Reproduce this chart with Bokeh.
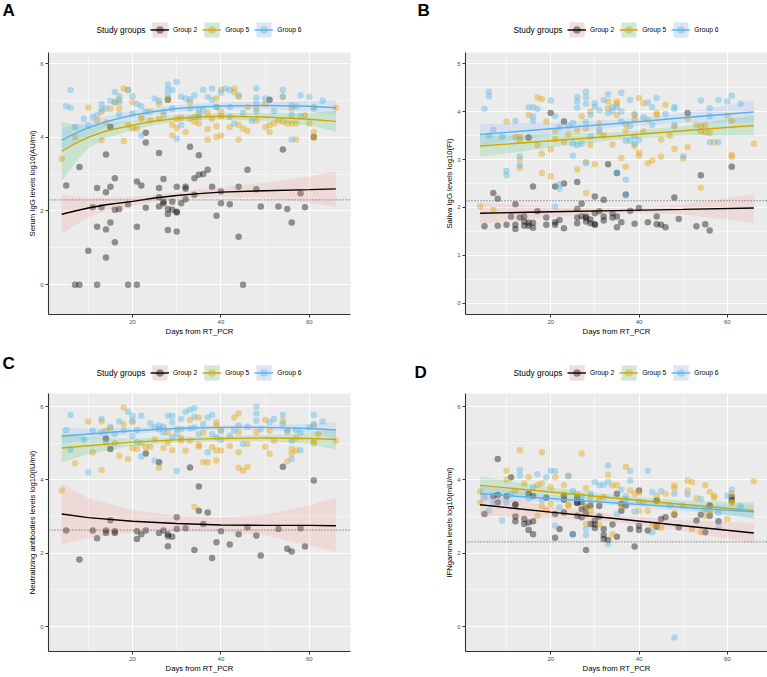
import numpy as np
from bokeh.plotting import figure
from bokeh.models import Range1d, FixedTicker, Span, Legend, LegendItem, Label
from bokeh.layouts import column, row
from bokeh.embed import file_html
from bokeh.resources import INLINE

FONT = "Liberation Sans"
GROUPS = ["Group 2", "Group 5", "Group 6"]
PT_COLORS = ["#000000", "#E69F00", "#56B4E9"]
LINE_COLORS = ["#000000", "#D9A400", "#56B4E9"]
RIB_COLORS = ["#F8766D", "#00BA38", "#619CFF"]
KEY_BG = ["#F0DEDD", "#CEE9D6", "#DCE5F4"]

X_LABEL = "Days from RT_PCR"
Y_LABELS = {
    "A": "Serum IgG levels log10(AU/ml)",
    "B": "Saliva IgG levels log10(FI)",
    "C": "Neutralizing antibodies levels log10(IU/ml)",
    "D": "IFNgamma levels log10(mIU/ml)",
}
CUTOFFS = {"A": 2.3, "B": 2.14, "C": 2.63, "D": 2.31}

# ---------------- Panel A: serum IgG ----------------
a_g2 = [(15,4.28),(23,4.12),(23,3.86),(26,3.57),(33,3.74),(35,3.51),(14,3.53),(54,3.67),(61,4.01),(51,5.02),(28,5.02),
        (5,2.69),(8,3.19),(12,2.62),(13,2.1),(11,2.1),(14,2.51),(15,2.66),(16,2.89),(12,1.57),(14,1.5),(15,1.69),(16,2.03),
        (17,2.05),(16,1.15),(10,0.92),(14,0.74),(7,0),(8,0),(12,0),(19,0),(21,0),(19,2.18),(21,1.57),(21,2.8),(22,2.69),
        (23,2.09),(26,2.62),(26,2.37),(26,2.12),(27,2.87),(27,2.25),(28,2.05),(28,1.92),(28,1.48),(29,2.25),(29,2.03),
        (30,1.96),(30,1.44),(30,2.66),(31,2.21),(32,2.66),(32,2.6),(32,2.32),(34,2.89),(34,2.44),(35,2.98),(36,3.0),
        (37,3.12),(38,2.66),(39,1.87),(40,2.53),(40,2.21),(42,2.18),(44,2.66),(44,1.3),(45,0),(46,3.12),(48,2.59),
        (49,2.12),(53,2.12),(55,2.05),(56,1.69),(58,2.48),(59,2.1),(30,1.98),(27,2.2)]
a_g5 = [(4,3.42),(7,4.01),(10,4.81),(13,4.69),(13,3.92),(15,4.78),(17,4.78),(17,5.02),(18,5.32),(19,5.28),(18,3.9),
        (19,4.33),(20,4.24),(21,4.24),(20,4.96),(22,4.5),(24,4.46),(26,4.5),(27,4.6),(28,5.05),(29,4.33),(29,4.05),
        (31,4.53),(32,4.14),(33,4.96),(33,4.5),(34,4.42),(35,4.64),(35,4.37),(37,4.22),(37,3.94),(38,4.5),(39,5.05),
        (39,4.82),(39,4.01),(39,4.3),(40,5.29),(40,4.57),(40,4.05),(42,4.28),(43,5.32),(43,5.23),(44,5.1),(44,4.33),
        (45,4.24),(46,4.17),(44,3.94),(50,4.91),(50,4.28),(51,4.14),(51,4.33),(52,4.37),(54,5.1),(54,4.42),(55,4.37),
        (56,4.78),(56,4.37),(57,4.37),(57,3.94),(60,4.37),(61,4.82),(61,4.14),(66,4.8),(46,4.82),(48,4.78),(40,4.7),
        (37,4.66),(34,4.55),(30,4.5),(24,4.69),(22,4.55),(16,4.95),(12,4.45),(14,4.4),(26,4.9),(30,4.25),(48,4.45),
        (53,4.45),(59,4.6),(61,3.98)]
a_g6 = [(5,4.84),(6,4.8),(6,5.28),(7,4.28),(9,4.5),(10,4.31),(13,4.9),(13,4.76),(14,4.78),(16,5.23),(17,5.11),(16,4.96),
        (17,4.62),(19,5.28),(20,5.11),(20,4.64),(21,4.9),(22,4.84),(22,4.05),(25,5.05),(26,4.99),(28,5.43),(28,5.29),
        (29,5.28),(28,5.14),(30,5.5),(29,4.78),(30,3.96),(31,5.1),(31,4.33),(32,5.05),(33,5.03),(34,5.14),(36,5.28),
        (35,4.73),(35,4.55),(38,5.32),(37,5.1),(38,5.02),(40,5.21),(41,5.32),(42,5.28),(42,4.82),(43,4.37),(44,5.14),
        (48,5.32),(48,5.07),(48,4.91),(48,4.69),(50,5.05),(52,4.71),(54,5.28),(54,5.1),(56,4.87),(56,4.6),(56,3.94),
        (57,4.84),(58,5.14),(58,4.57),(60,5.1),(61,4.78),(63,4.99),(12,4.6),(11,4.55),(15,4.99),(17,4.96),(23,4.69),
        (27,4.69),(33,4.78),(36,4.73),(39,4.82),(42,4.55),(45,4.66),(47,4.45)]
a_fit_x = [4, 7, 10, 14, 20, 25, 30, 35, 40, 50, 60, 66]
a_fit = {
    "Group 2": dict(y=[1.91, 2.0, 2.08, 2.17, 2.26, 2.35, 2.42, 2.47, 2.51, 2.55, 2.58, 2.6],
                    lo=[1.38, 1.62, 1.82, 2.0, 2.14, 2.26, 2.33, 2.37, 2.38, 2.35, 2.22, 2.1],
                    hi=[2.45, 2.4, 2.36, 2.35, 2.38, 2.44, 2.51, 2.58, 2.65, 2.76, 2.93, 3.08]),
    "Group 5": dict(y=[3.62, 3.83, 4.0, 4.17, 4.33, 4.44, 4.51, 4.55, 4.57, 4.55, 4.49, 4.43],
                    lo=[2.8, 3.3, 3.7, 3.98, 4.2, 4.34, 4.42, 4.47, 4.48, 4.45, 4.32, 4.15],
                    hi=[4.42, 4.35, 4.3, 4.36, 4.47, 4.55, 4.61, 4.64, 4.66, 4.66, 4.66, 4.71]),
    "Group 6": dict(y=[3.92, 4.1, 4.26, 4.42, 4.6, 4.7, 4.78, 4.82, 4.85, 4.86, 4.84, 4.8],
                    lo=[3.6, 3.86, 4.05, 4.27, 4.48, 4.6, 4.69, 4.74, 4.76, 4.76, 4.7, 4.6],
                    hi=[4.25, 4.34, 4.45, 4.56, 4.72, 4.8, 4.87, 4.91, 4.94, 4.96, 4.98, 5.02]),
}

# ---------------- Panel B: saliva IgG ----------------
b_g2 = [(15,3.46),(20,3.97),(23,3.79),(51,3.97),(5,1.61),(7,2.3),(8,2.18),(8,1.62),(10,1.64),(11,1.81),(12,2.07),
        (12,1.64),(12,1.55),(13,1.79),(14,1.81),(14,1.71),(14,1.62),(15,1.68),(15,1.62),(16,2.44),(16,1.68),(16,1.58),
        (17,1.92),(19,1.79),(19,1.64),(21,2.44),(21,1.69),(21,1.64),(22,1.74),(23,2.5),(23,1.57),(26,2.53),(26,1.97),
        (26,1.79),(26,1.67),(27,2.08),(27,1.82),(28,1.81),(28,1.71),(29,1.75),(29,1.67),(30,2.23),(30,1.88),(30,1.64),
        (31,1.92),(32,1.81),(32,1.73),(32,2.16),(33,2.9),(34,1.88),(34,1.79),(35,1.81),(35,1.59),(36,1.69),(37,2.27),
        (38,1.93),(39,1.66),(40,1.99),(42,1.69),(44,1.81),(44,1.65),(45,1.64),(46,1.59),(48,2.21),(49,1.76),(53,1.61),
        (54,2.67),(55,1.65),(56,1.52),(61,2.85),(35,2.72),(28,1.78),(30,1.65)]
b_g5 = [(10,3.79),(12,3.47),(13,3.47),(13,3.41),(15,3.93),(17,4.29),(18,4.26),(19,3.79),(17,3.3),(18,3.12),(20,3.21),
        (21,3.59),(23,3.37),(24,3.52),(27,3.9),(28,3.64),(29,4.0),(29,3.3),(31,3.57),(33,4.21),(33,4.07),(34,3.31),
        (35,4.21),(35,4.16),(35,3.93),(37,3.74),(37,3.61),(39,3.93),(39,3.84),(39,3.28),(40,4.28),(41,4.17),(41,3.59),
        (42,3.83),(44,3.97),(44,3.93),(45,3.41),(46,4.14),(48,3.69),(51,3.85),(51,3.26),(53,3.72),(54,3.59),(55,3.72),
        (55,3.57),(56,3.55),(57,3.36),(60,3.91),(61,3.81),(66,3.33),(36,3.03),(40,3.14),(40,3.08),(45,3.06),(48,3.22),
        (50,3.02),(61,3.1),(61,3.05),(4,2.02),(7,1.95),(13,2.83),(13,3.0),(18,2.72),(20,2.65),(26,2.79),(28,2.95),
        (28,2.3),(30,2.9),(37,2.85),(42,2.92),(43,2.98),(54,2.41),(26,3.6),(31,3.75),(47,3.5),(54,3.7),(32,3.5),(21,3.42)]
b_g6 = [(5,4.06),(6,4.41),(6,4.32),(7,3.62),(9,3.48),(12,3.81),(6,3.5),(15,4.09),(16,4.09),(17,4.05),(16,3.9),(16,3.81),
        (20,4.23),(21,3.9),(22,3.67),(24,3.7),(25,3.76),(26,4.3),(26,4.21),(26,4.08),(28,4.41),(28,4.3),(28,4.16),
        (28,3.78),(29,3.93),(30,4.17),(30,4.1),(31,4.03),(32,4.24),(33,4.36),(33,3.97),(34,4.09),(35,4.09),(36,4.39),
        (36,4.0),(36,3.79),(38,4.24),(38,3.7),(39,3.95),(41,3.88),(42,4.19),(43,4.09),(44,4.28),(43,3.72),(48,4.1),
        (48,4.05),(48,3.72),(54,4.23),(56,4.07),(56,3.9),(58,4.24),(60,4.21),(61,4.33),(63,4.16),(25,3.33),(26,3.3),
        (27,3.33),(37,3.39),(38,3.39),(39,3.33),(39,3.48),(40,3.4),(56,3.36),(58,3.36),(50,3.07),(13,3.07),(29,3.48),
        (31,3.62),(25,3.08),(10,2.76),(10,2.67),(13,2.88),(21,2.02),(22,2.48),(22,2.39),(28,2.92),(37,2.58),(37,2.25),
        (35,2.72),(34,4.0),(46,3.95)]
b_fit_x = [4, 20, 35, 50, 66]
b_fit = {
    "Group 2": dict(y=[1.88, 1.91, 1.935, 1.96, 1.99],
                    lo=[1.66, 1.8, 1.88, 1.86, 1.68], hi=[2.1, 2.02, 1.99, 2.06, 2.28]),
    "Group 5": dict(y=[3.28, 3.39, 3.49, 3.6, 3.71],
                    lo=[3.05, 3.25, 3.41, 3.5, 3.5], hi=[3.5, 3.52, 3.57, 3.7, 3.92]),
    "Group 6": dict(y=[3.52, 3.64, 3.75, 3.87, 3.99],
                    lo=[3.3, 3.5, 3.67, 3.76, 3.76], hi=[3.74, 3.77, 3.83, 3.97, 4.23]),
}

# ---------------- Panel C: neutralizing antibodies ----------------
c_g2 = [(14,5.13),(15,4.84),(23,4.72),(26,4.48),(33,4.34),(35,3.82),(54,4.36),(61,3.98),(5,2.62),(8,1.83),(11,2.62),
        (12,2.41),(14,2.62),(14,2.55),(15,2.9),(16,2.6),(16,2.55),(21,2.6),(21,2.39),(22,2.52),(23,2.62),(26,2.55),
        (27,2.62),(28,2.52),(28,2.46),(28,2.19),(29,2.45),(30,2.98),(30,2.66),(32,2.68),(34,2.09),(35,3.16),(36,2.8),
        (37,3.11),(38,1.87),(39,2.3),(40,2.6),(42,2.24),(44,2.52),(46,2.71),(48,2.48),(49,1.94),(53,2.66),(55,2.12),
        (56,2.05),(58,2.68),(59,2.18)]
c_g5 = [(4,3.71),(7,4.45),(10,5.59),(11,4.75),(13,5.59),(13,4.27),(14,5.34),(15,5.41),(17,4.66),(18,5.97),(18,5.52),
        (19,4.57),(20,5.57),(20,4.87),(21,4.84),(23,4.89),(24,4.9),(26,4.33),(27,4.87),(28,5.29),(28,5.02),(29,4.81),
        (30,5.38),(31,5.07),(32,4.8),(33,5.63),(33,5.07),(35,5.7),(35,4.96),(35,4.9),(36,5.29),(36,4.48),(37,4.48),
        (38,4.89),(39,5.57),(39,5.48),(39,4.8),(39,4.53),(40,5.36),(40,4.8),(42,4.93),(43,5.7),(44,5.81),(44,5.29),
        (44,4.75),(44,4.33),(45,4.25),(46,4.36),(46,4.98),(50,4.9),(50,5.63),(51,5.34),(51,4.71),(52,5.07),(54,5.61),
        (55,5.34),(56,4.84),(56,4.71),(57,4.8),(55,4.51),(61,5.48),(61,5.05),(61,5.0),(66,5.07),(62,5.25),(34,3.27),
        (16,5.0),(25,5.1),(31,5.15),(48,5.3),(22,5.0),(57,5.15)]
c_g6 = [(5,5.36),(6,5.77),(6,4.82),(10,4.21),(9,5.1),(11,5.34),(13,5.66),(13,5.29),(14,5.02),(16,5.25),(17,5.59),
        (19,5.86),(20,5.75),(20,5.61),(20,5.19),(21,5.36),(21,5.02),(22,5.75),(22,4.64),(24,5.54),(25,5.45),(25,4.53),
        (26,5.48),(26,5.38),(27,5.29),(28,5.75),(29,5.75),(29,5.57),(29,5.16),(30,5.25),(30,4.24),(31,5.66),(31,5.38),
        (32,5.86),(33,5.91),(34,5.95),(34,5.72),(34,5.43),(35,5.25),(36,5.52),(37,5.7),(37,4.75),(38,5.77),(38,5.25),
        (39,5.16),(40,5.09),(40,5.32),(43,5.34),(44,5.48),(45,4.98),(48,6.0),(48,5.81),(48,5.61),(49,5.38),(51,5.57),
        (52,5.66),(54,5.77),(54,5.52),(55,5.32),(56,5.07),(56,4.57),(57,5.36),(58,4.81),(60,5.43),(61,5.77),(61,5.52),
        (63,5.59),(58,5.29),(27,5.45),(33,5.4),(42,5.2),(46,5.45),(18,5.35),(15,5.45)]
c_fit_x = [4, 10, 20, 30, 40, 50, 60, 66]
c_fit = {
    "Group 2": dict(y=[3.07, 2.97, 2.87, 2.81, 2.77, 2.76, 2.76, 2.75],
                    lo=[2.23, 2.42, 2.56, 2.6, 2.58, 2.48, 2.22, 2.02],
                    hi=[3.9, 3.5, 3.18, 3.02, 2.97, 3.05, 3.3, 3.52]),
    "Group 5": dict(y=[4.87, 4.93, 5.03, 5.09, 5.13, 5.14, 5.13, 5.1],
                    lo=[4.47, 4.7, 4.93, 5.02, 5.06, 5.06, 4.98, 4.82],
                    hi=[5.27, 5.16, 5.13, 5.16, 5.2, 5.22, 5.28, 5.38]),
    "Group 6": dict(y=[5.19, 5.25, 5.34, 5.4, 5.43, 5.43, 5.4, 5.36],
                    lo=[4.97, 5.1, 5.25, 5.34, 5.37, 5.36, 5.28, 5.15],
                    hi=[5.42, 5.4, 5.43, 5.46, 5.49, 5.5, 5.52, 5.57]),
}

# ---------------- Panel D: IFN gamma ----------------
d_g2 = [(8,4.57),(11,4.07),(7,3.55),(8,3.59),(10,3.55),(12,3.33),(15,3.62),(16,3.56),(19,3.51),(23,3.57),(23,3.46),
        (26,3.51),(26,3.37),(27,3.39),(29,3.3),(31,3.29),(35,3.62),(40,3.71),(44,3.44),(56,3.3),(61,3.53),(61,3.45),
        (5,3.07),(8,3.38),(12,3.32),(12,3.0),(12,2.87),(14,2.93),(14,2.8),(15,2.84),(16,2.87),(15,2.63),(16,2.52),
        (21,3.07),(21,2.42),(22,2.66),(23,3.11),(25,2.52),(26,3.02),(26,3.38),(27,2.98),(27,3.2),(28,2.09),(28,3.24),
        (28,3.07),(29,2.8),(30,2.89),(30,2.78),(30,2.69),(31,3.0),(32,2.66),(32,2.5),(32,2.39),(33,2.36),(34,2.78),
        (35,2.45),(36,3.16),(38,2.66),(39,2.18),(40,2.75),(40,2.63),(42,2.62),(44,2.72),(45,2.93),(46,2.98),(48,3.05),
        (49,2.71),(53,2.89),(54,3.05),(55,2.57),(58,2.87),(56,3.02),(36,3.35),(37,3.3)]
d_g5 = [(4,3.69),(10,4.25),(13,4.81),(15,4.07),(18,4.75),(18,3.91),(20,3.8),(21,4.07),(23,3.85),(24,3.33),(27,4.72),
        (28,3.77),(29,3.53),(32,3.53),(33,4.14),(34,3.85),(35,3.85),(37,4.36),(38,3.71),(39,3.62),(40,3.64),(41,3.39),
        (44,3.57),(44,3.42),(46,3.62),(48,3.85),(48,3.78),(51,3.98),(52,3.94),(51,3.71),(55,3.85),(56,3.67),(57,3.57),
        (57,3.51),(61,3.62),(61,3.39),(66,3.96),(10,4.0),(17,3.87),(24,4.12),(4,3.38),(18,3.29),(17,3.02),(19,3.18),
        (20,3.34),(24,3.29),(28,3.27),(28,2.8),(29,3.16),(31,2.78),(34,2.52),(40,3.16),(42,3.16),(43,2.75),(44,2.8),
        (45,2.69),(48,3.09),(52,2.66),(54,2.57),(55,3.02),(56,3.11),(60,2.93),(61,3.38),(14,3.9),(26,3.6),(31,3.45),
        (36,3.3),(47,3.3),(53,3.5),(23,3.6),(12,3.7)]
d_g6 = [(5,3.53),(7,3.35),(13,4.27),(13,4.12),(16,3.8),(17,4.15),(19,4.07),(20,4.25),(21,4.24),(24,4.09),(30,3.94),
        (31,3.85),(32,3.87),(33,4.39),(33,3.94),(36,3.73),(38,4.24),(38,3.98),(42,4.25),(43,3.67),(45,3.69),(48,3.62),
        (51,3.6),(54,3.48),(60,3.57),(61,3.73),(63,3.28),(27,3.55),(29,3.62),(37,3.55),(37,3.46),(6,3.16),(9,2.89),
        (10,3.38),(21,2.75),(22,3.25),(25,2.52),(28,2.66),(28,2.5),(33,2.25),(35,3.07),(39,3.14),(43,2.57),(48,-0.3),
        (58,2.71),(58,3.11),(11,3.6),(15,3.5),(25,3.7),(40,3.4),(50,3.3),(55,3.2),(18,3.45)]
d_fit_x = [4, 20, 35, 50, 66]
d_fit = {
    "Group 2": dict(y=[3.32, 3.12, 2.94, 2.75, 2.55],
                    lo=[3.02, 2.96, 2.84, 2.6, 2.27], hi=[3.62, 3.28, 3.04, 2.9, 2.83]),
    "Group 5": dict(y=[3.85, 3.67, 3.5, 3.33, 3.16],
                    lo=[3.6, 3.55, 3.42, 3.22, 2.94], hi=[4.1, 3.79, 3.58, 3.44, 3.38]),
    "Group 6": dict(y=[3.62, 3.49, 3.37, 3.25, 3.13],
                    lo=[3.4, 3.4, 3.31, 3.16, 2.97], hi=[3.84, 3.58, 3.43, 3.34, 3.3]),
}

PANELS = {
    "A": dict(pts=[a_g2, a_g5, a_g6], fx=a_fit_x, fit=a_fit, xr=(1.0, 69.3), yr=(-0.81, 6.3),
              yt=[0, 2, 4, 6], ym=[1, 3, 5], w=384, h=288, bl=48, br=34, bb=26),
    "B": dict(pts=[b_g2, b_g5, b_g6], fx=b_fit_x, fit=b_fit, xr=(0.7, 69.1), yr=(-0.23, 5.23),
              yt=[0, 1, 2, 3, 4, 5], ym=[0.5, 1.5, 2.5, 3.5, 4.5], w=383, h=288, bl=81, br=0, bb=26),
    "C": dict(pts=[c_g2, c_g5, c_g6], fx=c_fit_x, fit=c_fit, xr=(1.0, 69.3), yr=(-0.68, 6.355),
              yt=[0, 2, 4, 6], ym=[1, 3, 5], w=384, h=284, bl=48, br=34, bb=26),
    "D": dict(pts=[d_g2, d_g5, d_g6], fx=d_fit_x, fit=d_fit, xr=(0.7, 69.1), yr=(-0.68, 6.355),
              yt=[0, 2, 4, 6], ym=[1, 3, 5], w=383, h=284, bl=81, br=0, bb=26),
}

# header strips: (letter, letter x, letter y, legend-centre y, "Study groups" x, first key x)
HEADERS = [
    dict(height=52, panels=[("A", 2, 42.5, 22.5, 96, 150), ("B", 417, 42.5, 22.5, 513, 567)]),
    dict(height=53, panels=[("C", 2, 30.5, 21, 96, 150), ("D", 414, 21, 21, 513, 567)]),
]


def style_axes(p, yt, ym):
    p.background_fill_color = "#EBEBEB"
    p.border_fill_color = "white"
    p.outline_line_color = None
    for ax, tk, mn in ((p.xaxis[0], [20, 40, 60], [10, 30, 50]), (p.yaxis[0], yt, ym)):
        ax.ticker = FixedTicker(ticks=tk, minor_ticks=mn)
        ax.axis_line_color = "#333333"
        ax.axis_line_width = 1.1
        ax.major_tick_line_color = "#333333"
        ax.major_tick_out = 3
        ax.major_tick_in = 0
        ax.minor_tick_line_color = None
        ax.major_label_text_font = FONT
        ax.major_label_text_font_size = "6px"
        ax.major_label_text_color = "#4D4D4D"
        ax.major_label_standoff = 1
        ax.axis_label_text_font = FONT
        ax.axis_label_text_font_size = "7.7px"
        ax.axis_label_text_font_style = "normal"
        ax.axis_label_text_color = "black"
        ax.axis_label_standoff = 0
    for g in (p.xgrid[0], p.ygrid[0]):
        g.grid_line_color = "white"
        g.grid_line_width = 1
        g.minor_grid_line_color = "white"
        g.minor_grid_line_width = 0.5


def make_header(spec):
    h = figure(width=767, height=spec["height"], x_range=Range1d(0, 1), y_range=Range1d(0, 1),
               x_axis_type=None, y_axis_type=None, output_backend="svg", toolbar_location=None,
               min_border_left=0, min_border_right=0, min_border_top=0, min_border_bottom=0)
    h.background_fill_color = "white"
    h.border_fill_color = "white"
    h.outline_line_color = None
    h.grid.visible = False
    # legend-key renderers: their single sample lies outside the visible range
    keys = []
    for i in range(3):
        bg = h.varea(x=[-10, -9], y1=[-10, -10], y2=[-9, -9], fill_color=KEY_BG[i])
        ln = h.line(x=[-10, -9], y=[-10, -10], line_color=LINE_COLORS[i], line_width=1.4)
        pt = h.scatter(x=[-10], y=[-10], size=7, fill_color=PT_COLORS[i], fill_alpha=0.4, line_color=None)
        keys.append([bg, ln, pt])
    for key, lx, ly, leg_y, sg_x, leg_x in spec["panels"]:
        items = [LegendItem(label=g, renderers=keys[i]) for i, g in enumerate(GROUPS)]
        leg = Legend(items=items, orientation="horizontal",
                     location=(leg_x, leg_y - 9.5),
                     glyph_width=19, glyph_height=19, label_height=19,
                     label_standoff=4, spacing=5, padding=0, margin=0,
                     label_text_font=FONT, label_text_font_size="6.7px",
                     label_text_baseline="middle", label_text_color="black",
                     background_fill_alpha=0, border_line_color=None)
        h.add_layout(leg)
        h.add_layout(Label(x=sg_x, y=leg_y, x_units="screen", y_units="screen",
                           text="Study groups", text_font=FONT, text_font_size="8.3px",
                           text_baseline="middle", text_align="left", text_color="black"))
        h.add_layout(Label(x=lx, y=ly, x_units="screen", y_units="screen",
                           text=key, text_font=FONT, text_font_size="17px", text_font_style="bold",
                           text_baseline="middle", text_align="left", text_color="black"))
    return h


def make_panel(key):
    cfg = PANELS[key]
    p = figure(width=cfg["w"], height=cfg["h"], x_range=Range1d(*cfg["xr"]), y_range=Range1d(*cfg["yr"]),
               output_backend="svg", toolbar_location=None,
               min_border_left=cfg["bl"], min_border_right=cfg["br"],
               min_border_top=0, min_border_bottom=cfg["bb"])
    p.xaxis.axis_label = X_LABEL
    p.yaxis.axis_label = Y_LABELS[key]
    style_axes(p, cfg["yt"], cfg["ym"])

    for i, pts in enumerate(cfg["pts"]):
        xs = [q[0] for q in pts]
        ys = [q[1] for q in pts]
        p.scatter(xs, ys, size=6.5, fill_color=PT_COLORS[i], fill_alpha=0.4, line_color=None)

    for i, g in enumerate(GROUPS):
        f = cfg["fit"][g]
        p.varea(x=cfg["fx"], y1=f["lo"], y2=f["hi"], fill_color=RIB_COLORS[i], fill_alpha=0.15)
        p.line(cfg["fx"], f["y"], line_color=LINE_COLORS[i], line_width=1.4)

    p.add_layout(Span(location=CUTOFFS[key], dimension="width", line_color="#4D4D4D",
                      line_dash="1 2", line_width=1))
    return p


layout = column(make_header(HEADERS[0]), row(make_panel("A"), make_panel("B")),
                make_header(HEADERS[1]), row(make_panel("C"), make_panel("D")))
open("out.html", "w").write(file_html(layout, INLINE))
